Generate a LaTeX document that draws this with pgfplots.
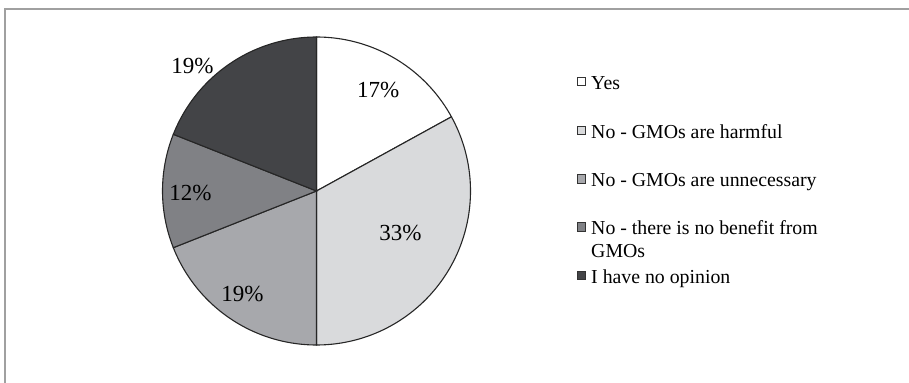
\documentclass[border=0pt]{standalone}
\usepackage{fontspec}
\setmainfont{Liberation Serif}
\usepackage{pgfplots}
\pgfplotsset{compat=1.18}

% Survey answers (percent of respondents)
\def\vYes{17}
\def\vHarm{33}
\def\vUnnec{19}
\def\vNoBen{12}
\def\vNoOp{19}

% Slice boundaries, clockwise from 12 o'clock
\pgfmathsetmacro\aA{90}
\pgfmathsetmacro\aB{\aA-3.6*\vYes}
\pgfmathsetmacro\aC{\aB-3.6*\vHarm}
\pgfmathsetmacro\aD{\aC-3.6*\vUnnec}
\pgfmathsetmacro\aE{\aD-3.6*\vNoBen}
\pgfmathsetmacro\aF{\aE-3.6*\vNoOp}

\definecolor{cYes}{RGB}{255,255,255}
\definecolor{cHarm}{RGB}{217,218,220}
\definecolor{cUnnec}{RGB}{167,168,172}
\definecolor{cNoBen}{RGB}{128,129,133}
\definecolor{cNoOp}{RGB}{67,68,71}
\definecolor{frame}{RGB}{160,160,160}

\begin{document}
\begin{tikzpicture}[x=1bp,y=1bp]
\useasboundingbox (0,0) rectangle (909,382);
% chart area border
\draw[frame, line width=1.4bp] (5,-2) -- (5,373) -- (911,373);

\begin{axis}[
  at={(316.5bp,191bp)}, anchor=center,
  width=308bp, height=308bp, scale only axis,
  xmin=-1, xmax=1, ymin=-1, ymax=1,
  hide axis, clip=false,
  every axis plot/.append style={draw=black!85, line width=1.1bp, samples=80, variable=\t},
  nodes near coords={},
]
\addplot[fill=cYes,   domain=\aB:\aA] ({cos(\t)},{sin(\t)}) -- (axis cs:0,0) -- cycle;
\addplot[fill=cHarm,  domain=\aC:\aB] ({cos(\t)},{sin(\t)}) -- (axis cs:0,0) -- cycle;
\addplot[fill=cUnnec, domain=\aD:\aC] ({cos(\t)},{sin(\t)}) -- (axis cs:0,0) -- cycle;
\addplot[fill=cNoBen, domain=\aE:\aD] ({cos(\t)},{sin(\t)}) -- (axis cs:0,0) -- cycle;
\addplot[fill=cNoOp,  domain=\aF:\aE] ({cos(\t)},{sin(\t)}) -- (axis cs:0,0) -- cycle;

\begin{scope}[every node/.style={inner sep=0pt, anchor=center, font=\fontsize{23bp}{26bp}\selectfont}]
\node at (axis cs:0.401,0.658)   {\vYes\%};
\node at (axis cs:0.545,-0.271)  {\vHarm\%};
\node at (axis cs:-0.481,-0.669) {\vUnnec\%};
\node at (axis cs:-0.818,-0.015) {\vNoBen\%};
\node at (axis cs:-0.805,0.810)  {\vNoOp\%};
\end{scope}
\end{axis}

% legend
\begin{scope}[every node/.style={inner sep=0pt, anchor=base west, font=\fontsize{19.8bp}{22.7bp}\selectfont}]
\foreach \c/\y in {cYes/300.5, cHarm/251.5, cUnnec/203, cNoBen/155, cNoOp/106.5}
  \draw[black!80, line width=0.8bp, fill=\c] (577,\y-4.3) rectangle (585.6,\y+4.3);
\node at (591,293)   {Yes};
\node at (591,244)   {No - GMOs are harmful};
\node at (591,195.5) {No - GMOs are unnecessary};
\node at (591,147.5) {No - there is no benefit from};
\node at (591,125)   {GMOs};
\node at (591,99)    {I have no opinion};
\end{scope}
\end{tikzpicture}
\end{document}
